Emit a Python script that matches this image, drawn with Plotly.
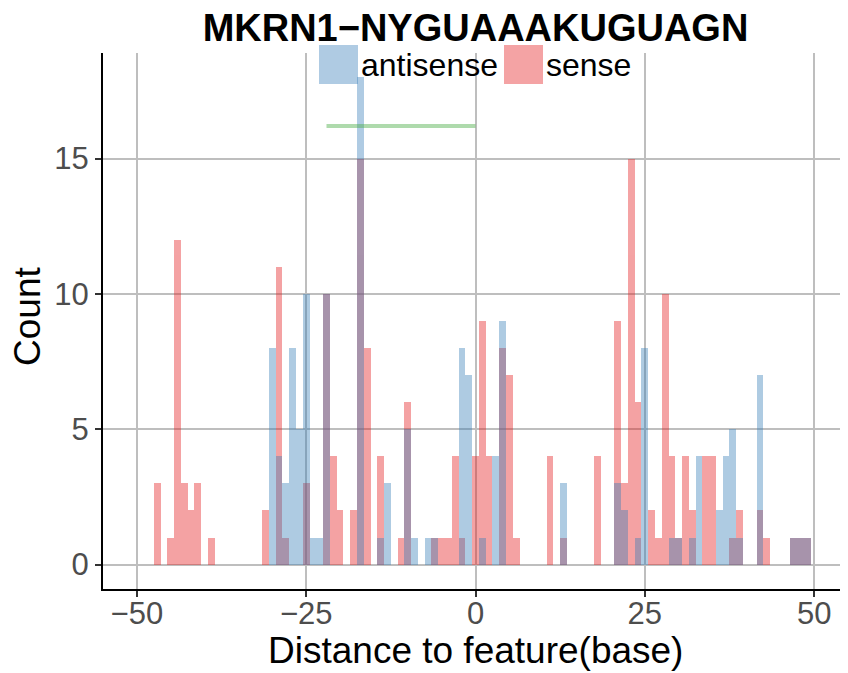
import plotly.graph_objects as go

# ---------------- data ----------------
title_text = "MKRN1\u2212NYGUAAAKUGUAGN"
series_names = ["antisense", "sense"]
x_title = "Distance to feature(base)"
y_title = "Count"

sense_pos = [-47, -45, -44, -43, -42, -41, -39, -31, -29, -28, -25, -22, -21, -20,
             -18, -17, -16, -14, -11, -10, -6, -5, -4, -3, -2, 0, 1, 2, 4, 5, 6,
             11, 13, 18, 21, 22, 23, 24, 26, 27, 28, 29, 30, 31, 32, 34, 35, 38,
             39, 42, 43, 47, 48, 49]
sense_count = [3, 1, 12, 3, 2, 3, 1, 2, 11, 1, 3, 10, 4, 2,
               2, 15, 8, 4, 1, 6, 1, 1, 1, 4, 1, 4, 9, 4, 8, 7, 1,
               4, 1, 4, 9, 3, 15, 6, 2, 1, 10, 4, 1, 4, 2, 4, 4, 1,
               2, 2, 1, 1, 1, 1]

antisense_pos = [-30, -29, -28, -27, -26, -25, -24, -23, -22, -17, -14, -13, -10,
                 -9, -7, -6, -2, -1, 1, 3, 4, 13, 21, 22, 24, 25, 29, 30, 32, 33,
                 36, 37, 38, 39, 42, 47, 48, 49]
antisense_count = [8, 4, 3, 8, 5, 10, 1, 1, 10, 18, 1, 3, 5,
                   1, 1, 1, 8, 7, 1, 4, 9, 3, 3, 2, 1, 8, 1, 1, 1, 4,
                   2, 4, 5, 1, 7, 1, 1, 1]

motif_x = [-22, 0]
motif_y = [16.2, 16.2]

x_ticks = [-50, -25, 0, 25, 50]
y_ticks = [0, 5, 10, 15]

# ---------------- styles ----------------
OFF = 8                      # default page body margin of the html page
W, H = 848 - OFF, 673 - OFF  # figure size so it fills the window
ML, MR, MT, MB = 103 - OFF, 0, 53 - OFF, 84
BLUE = "#377EB8"
RED = "#E41A1C"
GREEN = "#4DAF4A"
ALPHA = 0.4
FONT = "Liberation Sans, Arial, sans-serif"
GRID = "#BEBEBE"

fig = go.Figure()

fig.add_trace(go.Scatter(x=motif_x, y=motif_y, mode="lines",
                         line=dict(color=GREEN, width=4), opacity=0.45,
                         showlegend=False, hoverinfo="skip"))
fig.add_trace(go.Bar(x=sense_pos, y=sense_count, width=1, name=series_names[1],
                     marker=dict(color=RED, line=dict(width=0)), opacity=ALPHA,
                     showlegend=False))
fig.add_trace(go.Bar(x=antisense_pos, y=antisense_count, width=1, name=series_names[0],
                     marker=dict(color=BLUE, line=dict(width=0)), opacity=ALPHA,
                     showlegend=False))

pw = W - ML - MR
ph = H - MT - MB


def px_x(p):
    # page pixel -> paper fraction
    return (p - OFF - ML) / pw


def px_y(p):
    return (H - MB - (p - OFF)) / ph


# custom legend (large keys as in reference)
legend_items = [(series_names[0], BLUE, 319, 358), (series_names[1], RED, 504, 543)]
shapes = []
annotations = []
for name, col, x0, x1 in legend_items:
    shapes.append(dict(type="rect", xref="paper", yref="paper",
                       x0=px_x(x0), x1=px_x(x1), y0=px_y(84), y1=px_y(45),
                       fillcolor=col, opacity=ALPHA, line=dict(width=0), layer="above"))
    annotations.append(dict(xref="paper", yref="paper", x=px_x(x1 + 1), y=px_y(65),
                            xanchor="left", yanchor="middle", showarrow=False,
                            text=name, font=dict(size=32, color="black", family=FONT)))

# axis titles
annotations.append(dict(xref="paper", yref="paper", x=0.5, y=px_y(672),
                        xanchor="center", yanchor="bottom", showarrow=False, borderpad=0,
                        text=x_title, font=dict(size=37, color="black", family=FONT)))
annotations.append(dict(xref="paper", yref="paper", x=px_x(27), y=px_y(317),
                        xanchor="center", yanchor="middle", showarrow=False, textangle=-90,
                        text=y_title, font=dict(size=37, color="black", family=FONT)))

fig.update_layout(
    width=W, height=H,
    margin=dict(l=ML, r=MR, t=MT, b=MB, autoexpand=False),
    barmode="overlay",
    bargap=0,
    plot_bgcolor="white", paper_bgcolor="white",
    font=dict(family=FONT),
    title=dict(text="<b>" + title_text + "</b>", x=0.5, xref="paper", xanchor="center",
               y=1 - (28 - OFF) / H, yanchor="middle", automargin=False,
               font=dict(size=38, color="black", family=FONT)),
    shapes=shapes,
    annotations=annotations,
    showlegend=False,
)

fig.update_xaxes(range=[-55, 55], tickvals=x_ticks, ticks="outside", ticklen=6,
                 tickwidth=2, tickcolor="#333333", automargin=False,
                 ticklabelstandoff=-10,
                 tickfont=dict(size=31, color="#4D4D4D", family=FONT),
                 showgrid=True, gridcolor=GRID, gridwidth=2, zeroline=False,
                 showline=True, linecolor="black", linewidth=2)
fig.update_yaxes(range=[-0.9, 18.9], tickvals=y_ticks, ticks="outside", ticklen=6,
                 tickwidth=2, tickcolor="#333333", automargin=False,
                 tickfont=dict(size=31, color="#4D4D4D", family=FONT),
                 showgrid=True, gridcolor=GRID, gridwidth=2, zeroline=False,
                 showline=True, linecolor="black", linewidth=2)

fig.write_html("out.html")
